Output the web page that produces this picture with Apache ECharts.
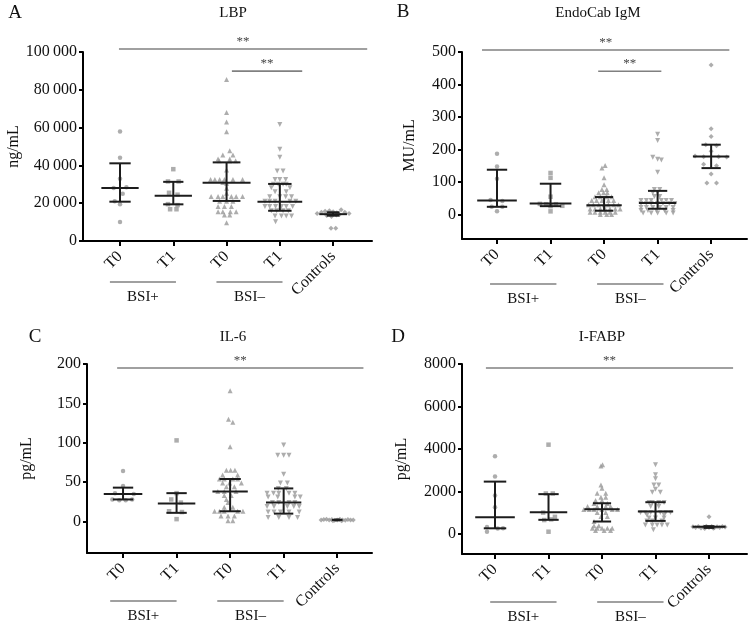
<!DOCTYPE html>
<html><head><meta charset="utf-8">
<script src="https://cdn.jsdelivr.net/npm/echarts@6/dist/echarts.min.js"></script>
<style>html,body{margin:0;padding:0;background:#fff}#c{width:749px;height:626px}</style>
</head><body><div id="c"></div>
<script>
// ---------- DATA ----------
const categories = ['T0', 'T1', 'T0', 'T1', 'Controls'];
const groupLabels = ['BSI+', 'BSI\u2013'];
const panelLetters = ['A', 'B', 'C', 'D'];
const panelTitles = ['LBP', 'EndoCab IgM', 'IL-6', 'I-FABP'];
const unitLabels = ['ng/mL', 'MU/mL', 'pg/mL', 'pg/mL'];

const yTicksA = [0, 20000, 40000, 60000, 80000, 100000];
const yTicksB = [0, 100, 200, 300, 400, 500];
const yTicksC = [0, 50, 100, 150, 200];
const yTicksD = [0, 2000, 4000, 6000, 8000];

// points: [horizontal jitter (category units), value]
const A_bsiPos_T0 = [[0,58000],[0,44000],[0,33000],[-0.12,28000],[0.12,28500],[0.05,25000],[-0.1,21000],[0,19500],[0,10000]];
const A_bsiPos_T1 = [[0,38000],[-0.1,31500],[0.1,31500],[-0.08,25500],[0.08,24500],[-0.1,19500],[0.08,19000],[-0.06,16800],[0.06,16800]];
const A_bsiNeg_T0 = [[0,85500],[0,68000],[0,63000],[0,57800],[0.06,47800],[-0.07,45500],[0.12,45500],[-0.16,43400],[0.06,43400],
  [-0.14,42500],[0.06,42300],[0.17,42500],[0,37600],[-0.3,32600],[-0.22,32600],[-0.13,32600],[-0.04,32600],[0.12,32600],[0.3,32600],
  [-0.07,31000],[0,30500],[0,27900],[0,25200],[-0.29,23500],[-0.16,23500],[-0.07,23500],[0.09,23500],[0.18,23500],[0.3,23500],
  [-0.13,21000],[0,21000],[0.12,21000],[-0.16,18200],[-0.04,18200],[0.09,18200],[-0.16,15500],[-0.07,15500],[0.07,15500],[0.18,15500],
  [-0.04,13800],[0.06,13800],[0,9700]];
const A_bsiNeg_T1 = [[0,61700],[0,48500],[0,44300],[-0.05,37000],[0.06,37000],[-0.09,32600],[0,32600],[0.11,32600],
  [-0.12,30000],[-0.03,30000],[0.06,30000],[0.12,30000],[-0.16,28200],[0.19,28200],[-0.09,26100],[0.12,26100],
  [-0.19,23400],[0,23400],[0.11,23400],[0.22,23400],[-0.28,21000],[-0.19,21000],[-0.09,21000],[0.19,21000],[0.3,21000],
  [-0.28,18200],[-0.19,18200],[-0.08,18200],[0.03,18200],[0.12,18200],[0.24,18200],[-0.16,16000],[-0.06,16000],[0.06,16000],[0.16,16000],
  [-0.09,13200],[0.03,13200],[0.12,13200],[0.22,13200],[-0.08,10200]];
const A_controls = [[-0.3,14500],[-0.22,15200],[-0.15,15800],[-0.07,16000],[0,15500],[0.07,15000],[0.15,16500],[0.22,15200],[0.3,14500],
  [-0.12,13500],[-0.03,13000],[0.06,13800],[0.12,14000],[-0.04,6700],[0.05,6700]];
// [median, q1, q3]
const A_stats = [[28000,20800,41100],[24000,19400,31300],[30800,21200,41600],[20800,16000,30200],[14200,13400,15200]];

const B_bsiPos_T0 = [[0,187],[0,148],[0,110],[-0.12,45],[0.1,42],[-0.1,24],[0.1,24],[0,10]];
const B_bsiPos_T1 = [[0,128],[0,113],[0,55],[-0.2,33],[-0.08,32],[0.1,32],[0.22,27],[0,26],[0,10]];
const B_bsiNeg_T0 = [[0.02,151],[-0.04,143],[0,113],[0,92],[-0.04,77],[0.05,77],[-0.1,67],[-0.01,67],[0.06,67],
  [-0.17,55],[-0.07,55],[0.05,55],[0.14,55],[-0.23,43],[-0.14,43],[-0.04,43],[0.08,43],[0.18,43],
  [-0.29,30],[-0.2,30],[-0.1,30],[0,30],[0.08,30],[0.18,30],[0.27,30],
  [-0.26,17],[-0.17,17],[-0.07,17],[0.02,17],[0.11,17],[0.21,17],[0.3,17],
  [-0.26,7],[-0.17,7],[-0.07,7],[0.02,7],[0.11,7],[0.21,7],[-0.07,0],[0.05,0],[0.14,0]];
const B_bsiNeg_T1 = [[0,247],[0,228],[-0.09,176],[0,170],[0.07,168],[0,130],[-0.06,77],[0.04,77],[-0.09,67],[0,67],[-0.06,56],[0.04,56],
  [-0.31,43],[-0.21,43],[-0.12,43],[0.07,43],[0.16,43],[0.26,43],
  [-0.31,34],[-0.21,34],[-0.12,34],[0,34],[0.1,34],[0.22,34],[0.32,34],
  [-0.31,22],[-0.21,22],[-0.09,22],[0.04,22],[0.16,22],[0.29,22],
  [-0.31,13],[-0.18,13],[-0.02,13],[0.13,13],[0.29,13],[-0.27,5],[-0.12,5],[0,5],[0.16,5],[0.29,5]];
const B_controls = [[0,460],[0,264],[0,240],[-0.1,215],[0.1,212],[0,195],[-0.3,180],[-0.14,178],[0.14,178],[0.29,177],
  [-0.14,155],[0.1,150],[0,125],[-0.08,97],[0.1,97]];
const B_stats = [[43,24,138],[34,26,95],[29,12,54],[36,18,73],[179,143,215]];

const C_bsiPos_T0 = [[0,64],[0,45],[-0.15,36],[0.2,35],[-0.2,28],[-0.07,27],[0.05,27],[0.17,28]];
const C_bsiPos_T1 = [[0,103],[0,36],[-0.1,28],[0.08,24],[-0.14,13],[0.1,12],[0,3]];
const C_bsiNeg_T0 = [[0,166],[-0.03,130],[0.05,126],[0,95],[-0.07,65],[0.01,65],[0.09,65],[-0.14,59],[0.14,59],
  [-0.2,54],[-0.11,54],[0.05,54],[0.14,54],[-0.14,49],[-0.01,49],[0.21,49],[-0.07,44],[0.08,44],
  [-0.23,38],[-0.11,38],[0.11,38],[-0.11,33],[0.02,33],[-0.07,28],[-0.04,24],[-0.11,18],[0.05,18],
  [-0.29,13],[-0.2,13],[-0.11,13],[0.14,13],[0.24,13],[-0.17,7],[-0.04,7],[0.08,7],[-0.04,1],[0.05,1]];
const C_bsiNeg_T1 = [[0,97],[-0.11,84],[0,84],[0.1,84],[0,60],[-0.06,49],[0.07,49],[-0.1,42],[0.05,42],
  [-0.31,36],[-0.19,36],[-0.09,36],[0.1,36],[0.21,36],[-0.29,31],[-0.11,31],[0.21,31],[0.31,31],
  [-0.21,24],[-0.09,24],[0.1,24],[0.21,24],[-0.31,19],[-0.18,19],[0.07,19],[0.19,19],[0.29,19],
  [-0.29,12],[-0.18,12],[-0.06,12],[0.1,12],[0.29,12],[-0.29,5],[-0.09,5],[0.1,5],[0.26,5]];
const C_controls = [[-0.3,2],[-0.25,2.5],[-0.2,3],[-0.15,2],[-0.1,2.5],[-0.05,1.5],[0,2],[0.05,3],[0.1,2],[0.15,1.5],
  [0.2,2.5],[0.25,2],[0.3,2],[-0.08,1],[0.08,1]];
const C_stats = [[35,28,43],[23,11,36],[38,13,54],[24,10,42],[2,1.5,2.5]];

const D_bsiPos_T0 = [[0,3650],[0,2700],[0,1800],[0,1250],[-0.15,320],[-0.15,100],[0.05,250],[0.15,260]];
const D_bsiPos_T1 = [[0,4200],[-0.05,1900],[0.08,1900],[-0.1,1000],[0.12,800],[-0.08,650],[0.05,680],[0,100]];
const D_bsiNeg_T0 = [[-0.02,3200],[0.01,3250],[-0.02,2300],[0,2150],[-0.09,1910],[0.07,1910],[-0.02,1720],[0.07,1720],
  [-0.12,1570],[0,1570],[-0.15,1430],[0.1,1430],[-0.27,1290],[-0.09,1290],[0.07,1290],[0.16,1290],
  [-0.34,1150],[-0.24,1150],[-0.15,1150],[0,1150],[0.19,1150],[0.29,1150],[-0.09,1000],[0.07,1000],
  [-0.02,815],[0.1,815],[-0.15,580],[-0.15,375],[-0.06,375],[-0.18,265],[-0.09,265],[0,265],[0.1,265],[0.19,265],
  [-0.12,160],[0.04,160],[0.16,160]];
const D_bsiNeg_T1 = [[0,3250],[0,2780],[0,2590],[-0.03,2300],[0.06,2300],[0,2100],[-0.06,1960],[0.09,1960],
  [-0.12,1480],[-0.06,1480],[0.06,1480],[0.16,1480],[-0.09,1290],[0.06,1290],
  [-0.28,1000],[-0.19,1000],[-0.09,1000],[0.09,1000],[0.19,1000],[0.28,1000],[-0.16,890],[0.16,890],
  [-0.12,740],[0,740],[0.16,740],[-0.16,600],[-0.06,600],[0.12,600],
  [-0.19,420],[-0.06,420],[0.03,420],[0.12,420],[0.22,420],[-0.04,190]];
const D_controls = [[0,800],[-0.3,330],[-0.25,300],[-0.2,350],[-0.15,280],[-0.1,320],[-0.05,360],[0,300],[0.05,340],
  [0.1,290],[0.15,330],[0.2,300],[0.25,350],[0.3,320],[-0.08,250],[0.08,260]];
const D_stats = [[780,260,2460],[1020,660,1870],[1160,580,1440],[1050,610,1490],[330,280,360]];

// significance brackets: [from category pos, to category pos, value]
const A_sig = [[0.98,5.64,101600],[3.1,4.42,89900]];
const B_sig = [[0.72,5.34,506],[2.89,4.07,441]];
const C_sig = [[0.89,5.49,195]];
const D_sig = [[0.83,5.45,7810]];

// ---------- LAYOUT / STYLE ----------
const panels = [
  {groups:[A_bsiPos_T0,A_bsiPos_T1,A_bsiNeg_T0,A_bsiNeg_T1,A_controls], stats:A_stats, sig:A_sig, yTicks:yTicksA,
   grid:{left:83,top:52,width:289,height:189}, x:[0.305,5.73], y:[0,100000], nameGap:60,
   letter:[15,13], title:[233,13], grpDy:41, grpShift:-0.17,
   widths:[[0.35,0.2],[0.35,0.19],[0.45,0.26],[0.42,0.22],[0.26,0.12]]},
  {groups:[B_bsiPos_T0,B_bsiPos_T1,B_bsiNeg_T0,B_bsiNeg_T1,B_controls], stats:B_stats, sig:B_sig, yTicks:yTicksB,
   grid:{left:462,top:52,width:285,height:187}, x:[0.346,5.67], y:[-75,500], nameGap:44,
   letter:[403,12], title:[598,13], grpDy:45, grpShift:-0.11,
   widths:[[0.37,0.19],[0.39,0.2],[0.33,0.17],[0.35,0.18],[0.34,0.18]]},
  {groups:[C_bsiPos_T0,C_bsiPos_T1,C_bsiNeg_T0,C_bsiNeg_T1,C_controls], stats:C_stats, sig:C_sig, yTicks:yTicksC,
   grid:{left:87,top:364,width:285,height:189}, x:[0.327,5.65], y:[-40,200], nameGap:52,
   letter:[35,337], title:[233,337], grpDy:48, grpShift:-0.22,
   widths:[[0.36,0.19],[0.35,0.19],[0.33,0.2],[0.33,0.18],[0.1,0.05]]},
  {groups:[D_bsiPos_T0,D_bsiPos_T1,D_bsiNeg_T0,D_bsiNeg_T1,D_controls], stats:D_stats, sig:D_sig, yTicks:yTicksD,
   grid:{left:462,top:364,width:285,height:190}, x:[0.383,5.71], y:[-950,8000], nameGap:52,
   letter:[398,337], title:[602,337], grpDy:48, grpShift:-0.07,
   widths:[[0.37,0.21],[0.35,0.19],[0.33,0.17],[0.33,0.19],[0.31,0.1]]}
];
const symbols = ['circle','rect','triangle','triangle','diamond'];
const symRot = [0,0,0,180,0];
const symSize = [4.5,4.5,5,5,5];
const FONT = "'Liberation Serif','DejaVu Serif',serif";
const PT = '#999999', BAR = '#1c1c1c', AX = '#000';

function fmtNum(v){ return Math.abs(v) >= 10000 ? String(v).replace(/\B(?=(\d{3})+(?!\d))/g, '\u2009') : String(v); }

const chart = echarts.init(document.getElementById('c'), null, {renderer:'canvas'});
const grids = [], xAxes = [], yAxes = [], series = [];
panels.forEach((p, i) => {
  grids.push(Object.assign({containLabel:false}, p.grid));
  xAxes.push({type:'value', gridIndex:i, min:p.x[0], max:p.x[1], splitLine:{show:false},
    axisLine:{onZero:false, lineStyle:{color:AX, width:2}},
    axisTick:{customValues:[1,2,3,4,5], length:5, lineStyle:{color:AX, width:2}},
    axisLabel:{customValues:[1,2,3,4,5], rotate:45, margin:13, fontFamily:FONT, fontSize:16, color:'#111',
      formatter:v => categories[Math.round(v)-1] || ''}});
  yAxes.push({type:'value', gridIndex:i, min:p.y[0], max:p.y[1], splitLine:{show:false},
    name:unitLabels[i], nameLocation:'middle', nameGap:p.nameGap, nameRotate:90,
    nameTextStyle:{fontFamily:FONT, fontSize:16, color:'#111'},
    axisLine:{onZero:false, lineStyle:{color:AX, width:2}},
    axisTick:{customValues:p.yTicks, length:4, lineStyle:{color:AX, width:2}},
    axisLabel:{customValues:p.yTicks, margin:6, fontFamily:FONT, fontSize:16, color:'#111', formatter:fmtNum}});
  p.groups.forEach((g, k) => {
    series.push({type:'scatter', xAxisIndex:i, yAxisIndex:i, z:2,
      symbol:symbols[k], symbolRotate:symRot[k], symbolSize:symSize[k],
      itemStyle:{color:PT}, silent:true, animation:false,
      data:g.map(d => [k + 1 + d[0], d[1]])});
  });
  series.push({type:'custom', xAxisIndex:i, yAxisIndex:i, z:5, silent:true, animation:false,
    data:p.stats.map((s, k) => [k + 1, s[0], s[1], s[2]]),
    renderItem:(params, api) => {
      const x = api.value(0), med = api.value(1), q1 = api.value(2), q3 = api.value(3);
      const w = p.widths[params.dataIndex];
      const st = {stroke:BAR, lineWidth:2};
      const L = (a, b) => ({type:'line', shape:{x1:a[0], y1:a[1], x2:b[0], y2:b[1]}, style:st});
      return {type:'group', children:[
        L(api.coord([x - w[0], med]), api.coord([x + w[0], med])),
        L(api.coord([x, q1]), api.coord([x, q3])),
        L(api.coord([x - w[1], q1]), api.coord([x + w[1], q1])),
        L(api.coord([x - w[1], q3]), api.coord([x + w[1], q3]))
      ]};
    }});
});

chart.setOption({animation:false, backgroundColor:'#fff', grid:grids, xAxis:xAxes, yAxis:yAxes, series:series});

// annotations positioned through the axes
const gfx = [];
panels.forEach((p, i) => {
  const px = (x, y) => chart.convertToPixel({gridIndex:i}, [x, y]);
  gfx.push({type:'text', x:p.letter[0], y:p.letter[1], style:{text:panelLetters[i], font:'19px ' + FONT, fill:'#111', align:'center', verticalAlign:'middle'}});
  gfx.push({type:'text', x:p.title[0], y:p.title[1], style:{text:panelTitles[i], font:'15px ' + FONT, fill:'#111', align:'center', verticalAlign:'middle'}});
  p.sig.forEach(s => {
    const a = px(s[0], s[2]), b = px(s[1], s[2]);
    gfx.push({type:'line', shape:{x1:a[0], y1:a[1], x2:b[0], y2:b[1]}, style:{stroke:'#808080', lineWidth:1.6}});
    gfx.push({type:'text', x:(a[0] + b[0]) / 2, y:a[1] - 1, style:{text:'**', font:'13px ' + FONT, fill:'#444', align:'center', verticalAlign:'bottom'}});
  });
  const axisY = px(1, p.y[0])[1];
  [[1, 2], [3, 4]].forEach((pair, gi) => {
    const a = px(pair[0] + p.grpShift - 0.02, p.y[0]), b = px(pair[1] + p.grpShift + 0.22, p.y[0]);
    const ly = axisY + p.grpDy;
    gfx.push({type:'line', shape:{x1:a[0], y1:ly, x2:b[0], y2:ly}, style:{stroke:'#808080', lineWidth:1.6}});
    gfx.push({type:'text', x:(a[0] + b[0]) / 2, y:ly + 15, style:{text:groupLabels[gi], font:'15px ' + FONT, fill:'#111', align:'center', verticalAlign:'middle'}});
  });
});
chart.setOption({graphic:gfx});
</script></body></html>
